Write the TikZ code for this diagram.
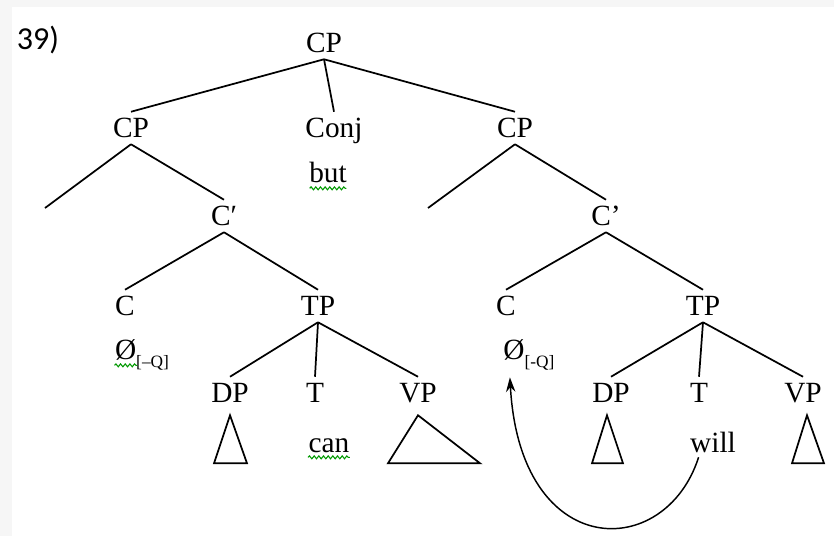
\documentclass[tikz,border=0pt]{standalone}
\usepackage{fontspec}
\setmainfont{Liberation Serif}
\newfontfamily\numfont{Carlito}
\usetikzlibrary{arrows.meta,calc,decorations.pathmorphing}
\tikzset{
  cat/.style={font=\fontsize{22}{26}\selectfont, inner xsep=1pt, inner ysep=5pt, text height=14pt, text depth=0pt},
  branch/.style={line width=1.3pt},
  wavy/.style={green!60!black, line width=0.8pt, decorate, decoration={snake, amplitude=1.1pt, segment length=3.5pt}},
}
\newcommand{\nullhead}[1]{Ø\raisebox{-6pt}{\fontsize{13}{15}\selectfont[#1Q]}}

\begin{document}
\begin{tikzpicture}[x=0.75pt,y=-0.75pt]
        \useasboundingbox (0,0) rectangle (834,536);
        \fill[gray!7] (0,0) rectangle (834,536);
        \fill[white] (12,7) rectangle (834,536);
        \node[font=\numfont\fontsize{24}{28}\selectfont] (num) at (38,40) {39)};
        % top level
        \node[cat] (cp) at (324,43) {CP};
        \node[cat] (cpl) at (131,128) {CP};
        \node[cat] (conj) at (334,128) {Conj};
        \node[cat] (cpr) at (515,128) {CP};
        \node[cat] (but) at (328,173) {but};
        \draw[branch] (cp.south)--(cpl.north);
        \draw[branch] (cp.south)--(conj.north);
        \draw[branch] (cp.south)--(cpr.north);
        \draw[wavy] ($(but.base west)+(2,6)$)--($(but.base east)+(-2,6)$);
        % left conjunct
        \coordinate (specl) at (45,208);
        \node[cat] (cbarl) at (224,216) {C′};
        \node[cat] (cl) at (125,306) {C};
        \node[cat] (zl) at (142,350) {\nullhead{–}};
        \node[cat] (tpl) at (318,306) {TP};
        \node[cat] (dpl) at (230,393) {DP};
        \node[cat] (tl) at (315,393) {T};
        \node[cat] (vpl) at (418,393) {VP};
        \node[cat] (can) at (329,443) {can};
        \draw[branch] (cpl.south)--(specl);
        \draw[branch] (cpl.south)--(cbarl.north);
        \draw[branch] (cbarl.south)--(cl.north);
        \draw[branch] (cbarl.south)--(tpl.north);
        \draw[branch] (tpl.south)--(dpl.north);
        \draw[branch] (tpl.south)--(tl.north);
        \draw[branch] (tpl.south)--(vpl.north);
        \draw[branch] (dpl.south) ++(0,6) -- ++(-16,48) -- ++(33,0) -- cycle;
        \draw[branch] (vpl.south) ++(0,6) -- ++(-30,48) -- ++(92,0) -- cycle;
        \draw[wavy] ($(zl.base west)+(1,6)$)--($(zl.base west)+(24,6)$);
        \draw[wavy] ($(can.base west)+(1,5)$)--($(can.base east)+(-1,5)$);
        % right conjunct
        \coordinate (specr) at (428,208);
        \node[cat] (cbarr) at (606,216) {C'};
        \node[cat] (cr) at (506,306) {C};
        \node[cat] (zr) at (529,350) {\nullhead{-}};
        \node[cat] (tpr) at (703,306) {TP};
        \node[cat] (dpr) at (611,393) {DP};
        \node[cat] (tr) at (699,393) {T};
        \node[cat] (vpr) at (803,393) {VP};
        \node[cat] (will) at (713,443) {will};
        \draw[branch] (cpr.south)--(specr);
        \draw[branch] (cpr.south)--(cbarr.north);
        \draw[branch] (cbarr.south)--(cr.north);
        \draw[branch] (cbarr.south)--(tpr.north);
        \draw[branch] (tpr.south)--(dpr.north);
        \draw[branch] (tpr.south)--(tr.north);
        \draw[branch] (tpr.south)--(vpr.north);
        \draw[branch] (dpr.south) ++(-4,6) -- ++(-15,48) -- ++(31,0) -- cycle;
        \draw[branch] (vpr.south) ++(4,6) -- ++(-15,48) -- ++(32,0) -- cycle;
        % head movement
        \draw[line width=1.1pt,-{Stealth[length=11pt,width=7pt]}] ($(will.south west)+(10,-2)$) .. controls (665,562) and (520,562) .. ($(zr.south west)+(8,11)$);
      \end{tikzpicture}
\end{document}
